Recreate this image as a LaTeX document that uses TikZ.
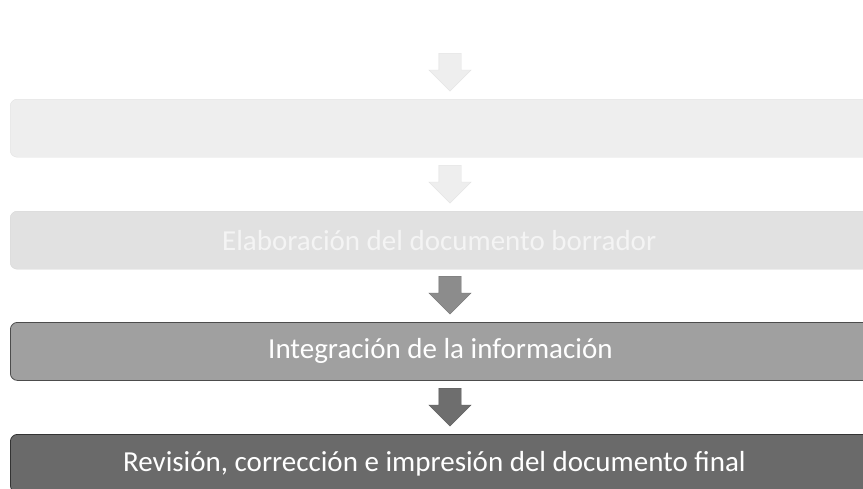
\documentclass[tikz,border=0pt]{standalone}
\usepackage{fontspec}
\setmainfont{Carlito}
\usetikzlibrary{shapes.arrows}
\definecolor{boxB}{HTML}{EEEEEE}
\definecolor{boxC}{HTML}{E1E1E1}
\definecolor{boxCtext}{HTML}{F4F4F4}
\definecolor{boxD}{HTML}{A0A0A0}
\definecolor{boxE}{HTML}{6A6A6A}
\definecolor{arrA}{HTML}{EEEEEE}
\definecolor{arrC}{HTML}{8C8C8C}
\definecolor{arrD}{HTML}{6E6E6E}
\tikzset{
  stepbox/.style={rectangle, rounded corners=7pt, minimum height=58pt,
    minimum width=868pt, anchor=north west, inner sep=0pt,
    font=\fontsize{29}{32}\selectfont, text=white},
  downarrow/.style={single arrow, shape border rotate=270, minimum height=38pt,
    minimum width=42pt, single arrow head extend=10pt, single arrow tip angle=90,
    inner xsep=11pt, inner ysep=0pt, anchor=north}
}
\begin{document}
\begin{tikzpicture}[x=1pt,y=-1pt]
\useasboundingbox[fill=white] (0,0) rectangle (863,488);
\node[downarrow, fill=arrA, draw=arrA!95!black] (a1) at (450,53) {};
\node[stepbox, fill=boxB, draw=boxB!95!black] (b) at (10,99) {};
\node[downarrow, fill=arrA, draw=arrA!95!black] (a2) at (450,165) {};
\node[stepbox, fill=boxC, draw=boxC!95!black, text=boxCtext] (c) at (10,211)
  {\hspace*{-10pt}Elaboración del documento borrador};
\node[downarrow, fill=arrC, draw=arrC!80!black] (a3) at (450,276) {};
\node[stepbox, fill=boxD, draw=black!70, line width=0.8pt] (d) at (10,322)
  {\hspace*{-8pt}Integración de la información};
\node[downarrow, fill=arrD, draw=arrD!80!black] (a4) at (450,388) {};
\node[stepbox, fill=boxE, draw=black!80, line width=0.8pt] (e) at (10,434)
  {\hspace*{-20pt}Revisión, corrección e impresión del documento final};
\end{tikzpicture}
\end{document}
